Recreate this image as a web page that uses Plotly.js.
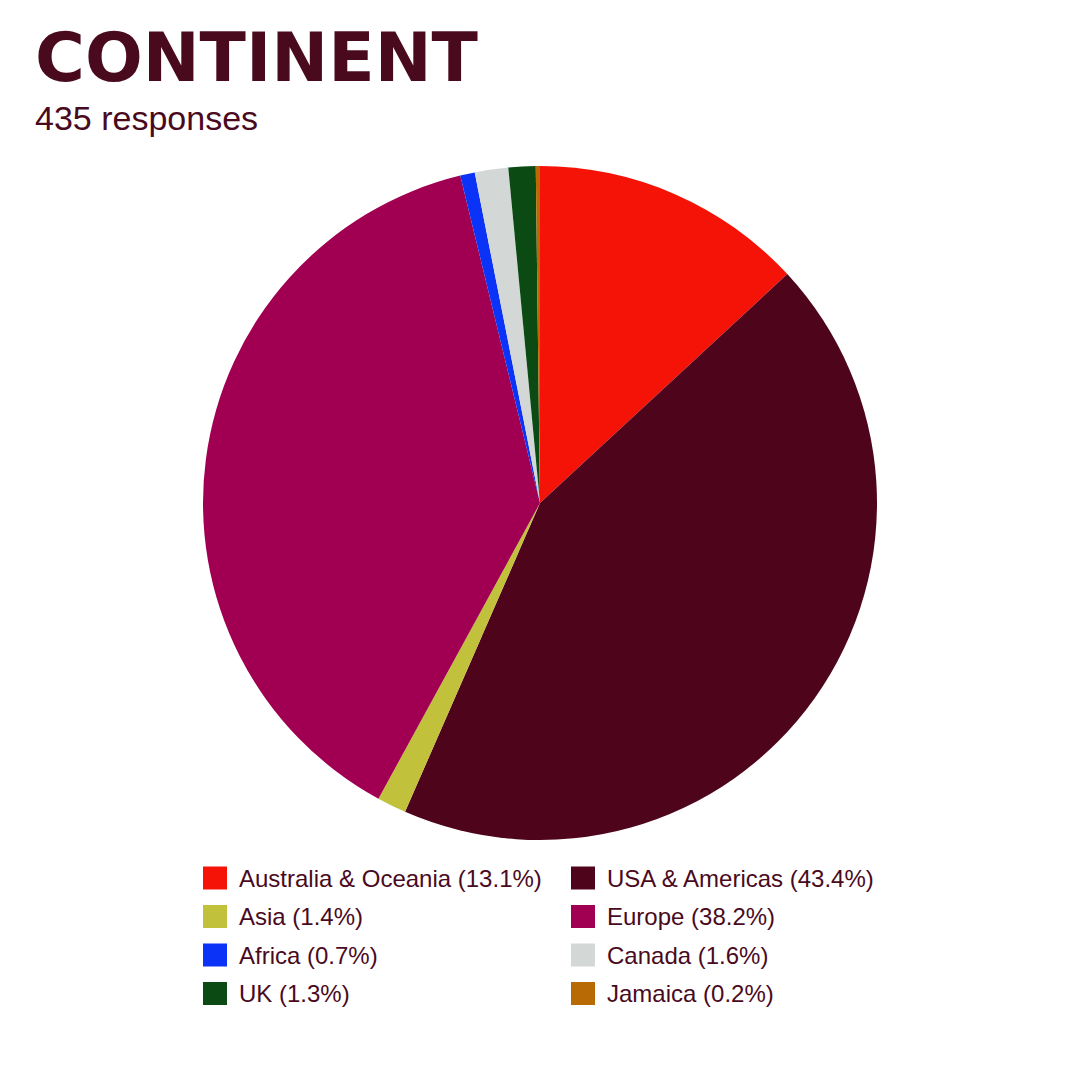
<!DOCTYPE html>
<html>
<head>
<meta charset="utf-8">
<script src="https://cdn.plot.ly/plotly-3.0.1.min.js"></script>
<style>html,body{margin:0;padding:0;background:#fff;}#chart{width:1080px;height:1080px;}</style>
</head>
<body>
<div id="chart"></div>
<script>
const categories = ["Australia & Oceania", "USA & Americas", "Asia", "Europe", "Africa", "Canada", "UK", "Jamaica"];
const percentages = [13.1, 43.4, 1.4, 38.2, 0.7, 1.6, 1.3, 0.2];
const sliceColors = ["#f51308", "#4e051c", "#c2c13c", "#a10052", "#0a33f7", "#d3d8d6", "#0c4a14", "#b86a04"];
const chartTitle = "CONTINENT";
const chartSubtitle = "435 responses";

const W = 1080, H = 1080;
const mTop = 166, mBot = 240;
const plotH = H - mTop - mBot;
const textColor = "#4a0a1e";

function px2x(px){ return px / W; }
function py2y(py){ return (H - mBot - py) / plotH; }

const shapes = [];
const annotations = [];

// Custom legend (2 columns, row-wise)
const colSwatchX = [203, 571];
const rowCenterY = [878, 916.5, 955, 993.5];
categories.forEach((c, i) => {
  const col = i % 2, row = Math.floor(i / 2);
  const sx = colSwatchX[col], cy = rowCenterY[row];
  shapes.push({
    type: "rect", xref: "paper", yref: "paper",
    x0: px2x(sx), x1: px2x(sx + 24),
    y0: py2y(cy + 11.5), y1: py2y(cy - 11.5),
    fillcolor: sliceColors[i], line: {width: 0}
  });
  annotations.push({
    xref: "paper", yref: "paper",
    x: px2x(sx + 34), y: py2y(cy),
    xanchor: "left", yanchor: "middle",
    text: c + " (" + percentages[i].toFixed(1) + "%)",
    showarrow: false,
    font: {family: "Liberation Sans, Arial, sans-serif", size: 24, color: textColor}
  });
});

// Subtitle
annotations.push({
  xref: "paper", yref: "paper",
  x: px2x(33), y: py2y(118),
  xanchor: "left", yanchor: "middle",
  text: chartSubtitle, showarrow: false,
  font: {family: "Liberation Sans, Arial, sans-serif", size: 34, color: textColor}
});

const data = [{
  type: "pie",
  labels: categories,
  values: percentages,
  marker: {colors: sliceColors, line: {width: 0}},
  sort: false,
  direction: "clockwise",
  rotation: 0,
  textinfo: "none",
  hoverinfo: "label+percent",
  showlegend: false
}];

const layout = {
  width: W, height: H,
  paper_bgcolor: "#ffffff",
  plot_bgcolor: "#ffffff",
  margin: {l: 0, r: 0, t: mTop, b: mBot, pad: 0},
  showlegend: false,
  title: {
    text: "<b>" + chartTitle + "</b>",
    x: 35 / W, xanchor: "left", xref: "container",
    y: 1 - 57 / H, yanchor: "middle", yref: "container",
    font: {family: "DejaVu Sans, sans-serif", size: 68, color: textColor, weight: "bold"}
  },
  shapes: shapes,
  annotations: annotations
};

Plotly.newPlot("chart", data, layout, {displayModeBar: false, staticPlot: true});
</script>
</body>
</html>
